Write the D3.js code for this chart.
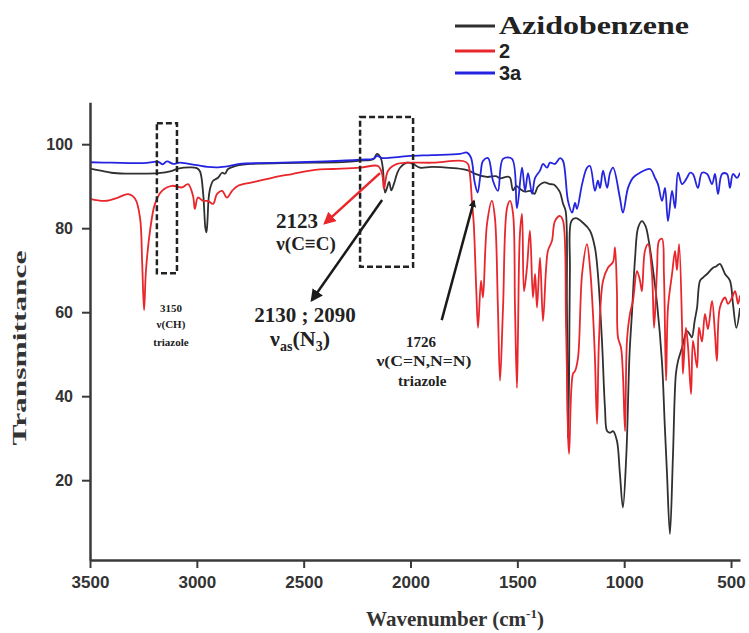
<!DOCTYPE html>
<html>
<head>
<meta charset="utf-8">
<script src="https://cdn.jsdelivr.net/npm/d3@7"></script>
<style>
  body { margin: 0; background: #fff; }
  svg { display: block; }
</style>
</head>
<body>
<svg id="chart" width="749" height="633"></svg>
<script>
// FT-IR spectra: wavenumber (cm-1) vs transmittance (%)

const seriesNames = ["Azidobenzene", "2", "3a"];
const seriesColors = ["#303030", "#e8262c", "#2424e0"];

const wnTicks = [3500, 3000, 2500, 2000, 1500, 1000, 500];
const tTicks = [20, 40, 60, 80, 100];

const azidobenzene = [
  [3500,94.2],[3450,93.7],[3400,93.2],[3330,93.0],[3250,93.0],[3180,93.1],[3120,93.6],[3088,94.2],
  [3030,94.5],[3000,94.3],[2985,93.5],[2970,88],[2960,80],[2955,79],[2950,82],[2945,87],[2938,89.4],
  [2924,91.3],[2901,92],[2882,93.2],[2868,93],[2854,94.1],[2821,94.8],[2750,95.3],[2600,95.5],
  [2447,95.6],[2300,95.8],[2236,96.1],[2175,96.4],[2157,97.7],[2140,96.8],[2130,94.5],[2119,88.5],
  [2110,89.6],[2100,91],[2090,89.0],[2078,90.5],[2063,93],[2049,94.4],[2016,95.6],[1988,95.3],
  [1956,94.4],[1900,94.6],[1800,94.3],[1750,94.0],[1722,93.6],[1700,93.0],[1642,92.2],[1600,92.4],
  [1581,91.9],[1545,92.3],[1534,92.0],[1520,89.0],[1505,90.1],[1488,89.4],[1464,88.7],[1441,88.9],
  [1420,88.2],[1405,89.8],[1385,90.7],[1371,90.9],[1347,90.5],[1330,90.4],[1315,89.7],[1300,88.5],
  [1286,85.8],[1274,84.1],[1268,62],[1263,30],[1258,44],[1254,70],[1247,81.7],[1226,82.4],
  [1193,81.3],[1160,79.4],[1137,75.4],[1123,69.1],[1104,53.2],[1090,37.3],[1080,31.7],[1066,31.3],
  [1052,31.7],[1034,29.4],[1020,21.5],[1006,13.5],[990,26],[975,50],[963,60.3],[949,73],[935,80.1],
  [917,81.7],[900,80.5],[885,77],[870,72],[846,62],[823,48],[810,33],[800,22],[786,7.2],[772,25.4],
  [758,45.3],[748,48.4],[729,51.6],[706,55.5],[690,54.5],[683,54],[670,58],[659,61.1],[645,67.5],
  [630,68.3],[612,69.1],[584,70.6],[570,70.9],[552,71.5],[540,70.5],[528,69.1],[505,67.5],[491,62],
  [475,56.3],[458,61]
];

const compound2 = [
  [3500,87],[3430,86.5],[3369,87.3],[3322,88.1],[3289,87],[3266,82.5],[3256,72],[3247,60.5],
  [3238,70],[3219,79.4],[3196,85.8],[3163,88.9],[3116,90.1],[3069,89.7],[3041,90.5],[3018,87.7],
  [3009,84.6],[2995,87.3],[2971,86.5],[2948,86.5],[2924,85.8],[2906,88.1],[2882,88.9],[2859,87.3],
  [2835,88.9],[2807,90.1],[2742,90.9],[2648,92],[2555,92.9],[2447,93.9],[2363,94.1],[2236,94.4],
  [2152,94.8],[2133,92.9],[2124,89.4],[2105,93.7],[2063,95.3],[2016,95.6],[1895,95.6],[1754,96],
  [1731,95.3],[1722,92.9],[1712,86],[1704,81],[1692,65],[1684,56.3],[1670,67.5],[1661,63.5],
  [1642,81],[1619,86.5],[1605,82.5],[1591,61.1],[1581,43.7],[1567,61.1],[1548,84.9],[1534,86.5],
  [1520,83.4],[1511,61.1],[1502,42],[1497,55],[1488,78.6],[1478,83.4],[1469,65],[1455,70.6],
  [1441,79.4],[1427,63.5],[1417,69.1],[1408,61.1],[1394,73],[1380,57.9],[1366,70],[1357,74.6],
  [1338,77],[1324,81.7],[1300,82.9],[1286,81.7],[1272,56.3],[1258,26.3],[1240,45.3],[1230,46],
  [1216,49.2],[1197,69.1],[1174,76.2],[1160,70.6],[1146,59.6],[1137,49.2],[1127,33.4],[1118,53.2],
  [1099,67.5],[1076,70.6],[1052,72],[1043,75.4],[1034,65],[1029,54],[1015,51.6],[1006,45.3],
  [996,31.7],[987,53.2],[973,59.6],[959,62.7],[940,69.8],[926,67.5],[917,65],[903,74.6],[888,76.2],
  [870,69.1],[860,56.3],[846,70.6],[837,77],[823,77.5],[814,69.1],[804,43.7],[795,61.1],[776,69.1],
  [762,74.6],[753,70],[743,76.2],[729,56.3],[725,45.3],[711,56.3],[701,51.6],[687,40.5],[678,53.2],
  [659,46.8],[650,56.3],[636,53],[622,59.6],[608,56],[589,62.7],[575,54.8],[566,48.4],[552,61.1],
  [528,63.5],[514,62],[495,63.5],[481,65],[467,62],[458,64]
];

const compound3a = [
  [3500,95.7],[3400,95.6],[3250,95.5],[3180,95.8],[3160,95.2],[3140,95.9],[3110,95.3],[3080,95.6],
  [3000,95.0],[2950,94.6],[2900,94.5],[2850,94.8],[2800,95.3],[2700,95.5],[2600,95.6],[2400,95.9],
  [2236,96.3],[2170,96.6],[2157,97.2],[2133,96.7],[2050,97.0],[2002,97.2],[1900,97.4],[1768,97.7],
  [1736,98],[1717,96.8],[1700,91],[1686,88.5],[1672,93],[1661,96],[1637,96.7],[1614,91.3],
  [1591,88.9],[1567,96.5],[1525,96.5],[1502,84.8],[1478,94.4],[1464,88.9],[1450,93.1],[1431,88.2],
  [1417,92],[1394,93.7],[1380,95.3],[1361,94.4],[1347,95.6],[1324,95.3],[1300,96.7],[1286,96],
  [1263,86.5],[1244,83.7],[1230,86],[1221,84.6],[1197,90.5],[1174,94.4],[1160,94.8],[1137,88.9],
  [1123,91.3],[1113,89.6],[1099,93.7],[1080,89.6],[1066,93.2],[1052,94.4],[1020,87.2],[1006,83.7],
  [982,89.6],[959,92],[926,93.2],[879,94.1],[856,92],[842,90.5],[823,86.5],[809,89.6],[795,81.7],
  [776,88.9],[762,84.8],[748,93.2],[729,90.5],[706,92],[692,93.2],[678,92.9],[655,89.6],[636,93.2],
  [612,92.9],[589,90.5],[575,92.9],[561,88.1],[542,92.9],[519,92.9],[505,89.6],[491,92.9],
  [472,92],[458,93.2]
];

// peak assignment marks, positioned in data units [wavenumber, transmittance]
const boxes = [
  { x0: 3187, x1: 3093, y0: 105, y1: 69.3 },
  { x0: 2236, x1: 1988, y0: 106.5, y1: 70.8 }
];
const arrows = [
  { from: [2143, 93.1], to: [2400, 81.2], color: "#e8262c" },
  { from: [2133, 86.7], to: [2461, 62.9], color: "#1a1a1a" },
  { from: [1854, 58.1], to: [1703, 86.5], color: "#1a1a1a" }
];

const svg = d3.select("#chart");
const W = 749, H = 633;
const serif = "'Liberation Serif', 'Times New Roman', serif";
const sans = "'Liberation Sans', Arial, sans-serif";

svg.append("rect").attr("width", W).attr("height", H).attr("fill", "#fff");

const x = d3.scaleLinear().domain([3500, 458]).range([90, 740]);
const y = d3.scaleLinear().domain([1, 110]).range([560, 102.2]);

svg.append("defs").append("clipPath").attr("id", "plot")
  .append("rect").attr("x", 90).attr("y", 102).attr("width", 650).attr("height", 458);

const line = d3.line()
  .x(d => x(d[0]))
  .y(d => y(d[1]))
  .curve(d3.curveCatmullRom.alpha(0.5));

const spectra = svg.append("g").attr("clip-path", "url(#plot)");
[azidobenzene, compound2, compound3a].forEach((set, i) => {
  spectra.append("path")
    .attr("d", line(set))
    .attr("fill", "none")
    .attr("stroke", seriesColors[i])
    .attr("stroke-width", 1.8)
    .attr("stroke-linejoin", "round");
});

// axes
const xAxis = svg.append("g")
  .attr("transform", "translate(0," + y(1) + ")")
  .call(d3.axisBottom(x).tickValues(wnTicks).tickFormat(d3.format("d"))
    .tickSize(8).tickSizeOuter(0).tickPadding(8));
const yAxis = svg.append("g")
  .attr("transform", "translate(" + x(3500) + ",0)")
  .call(d3.axisLeft(y).tickValues(tTicks).tickFormat(d3.format("d"))
    .tickSize(8).tickSizeOuter(0).tickPadding(9));

[xAxis, yAxis].forEach(g => {
  g.select(".domain").attr("stroke", "#3a3a3a").attr("stroke-width", 2.5);
  g.selectAll(".tick line").attr("stroke", "#3a3a3a").attr("stroke-width", 2);
  g.selectAll(".tick text")
    .attr("fill", "#333")
    .style("font-family", sans)
    .style("font-weight", "bold");
});
xAxis.selectAll(".tick text").style("font-size", "17px");
yAxis.selectAll(".tick text").style("font-size", "16px");

// axis titles
svg.append("text")
  .attr("transform", "translate(26,348) rotate(-90)")
  .attr("text-anchor", "middle")
  .attr("textLength", 195)
  .attr("lengthAdjust", "spacingAndGlyphs")
  .style("font-family", serif).style("font-weight", "bold").style("font-size", "18px")
  .attr("fill", "#333")
  .text("Transmittance");

const xTitle = svg.append("text")
  .attr("x", 455).attr("y", 626)
  .attr("text-anchor", "middle")
  .style("font-family", serif).style("font-weight", "bold").style("font-size", "21px")
  .attr("fill", "#333");
xTitle.append("tspan").text("Wavenumber (cm");
xTitle.append("tspan").attr("dy", -8).style("font-size", "13px").text("-1");
xTitle.append("tspan").attr("dy", 8).text(")");

// dashed boxes around the marked bands
svg.selectAll("rect.band").data(boxes).join("rect")
  .attr("class", "band")
  .attr("x", d => x(d.x0)).attr("y", d => y(d.y0))
  .attr("width", d => x(d.x1) - x(d.x0))
  .attr("height", d => y(d.y1) - y(d.y0))
  .attr("fill", "none")
  .attr("stroke", "#222")
  .attr("stroke-width", 2.5)
  .attr("stroke-dasharray", "6,3");

// arrows
const defs = svg.select("defs");
arrows.forEach((a, i) => {
  defs.append("marker")
    .attr("id", "head" + i)
    .attr("viewBox", "0 0 10 10")
    .attr("refX", 8).attr("refY", 5)
    .attr("markerWidth", i === 2 ? 3 : 5).attr("markerHeight", i === 2 ? 3 : 5)
    .attr("orient", "auto")
    .append("path").attr("d", "M0,0L10,5L0,10z").attr("fill", a.color);
  svg.append("line")
    .attr("x1", x(a.from[0])).attr("y1", y(a.from[1]))
    .attr("x2", x(a.to[0])).attr("y2", y(a.to[1]))
    .attr("stroke", a.color)
    .attr("stroke-width", 2.5)
    .attr("marker-end", "url(#head" + i + ")");
});

function label(wn, t, size, parts, len) {
  const el = svg.append("text")
    .attr("x", x(wn)).attr("y", y(t))
    .attr("text-anchor", "middle")
    .style("font-family", serif).style("font-weight", "bold")
    .style("font-size", size + "px")
    .attr("fill", "#222");
  if (len) el.attr("textLength", len).attr("lengthAdjust", "spacingAndGlyphs");
  parts.forEach(p => {
    if (typeof p === "string") el.append("tspan").text(p);
    else el.append("tspan").attr("dy", p.dy).style("font-size", p.size + "px").text(p.t);
  });
  return el;
}

label(2531, 80.0, 21, ["2123"]);
label(2489, 74.8, 19, ["\u03bd(C\u2261C)"]);
label(2494, 57.7, 21, ["2130 ; 2090"]);
label(2517, 52.0, 22, ["\u03bd", { t: "as", dy: 5, size: 14 }, { t: "(N", dy: -5, size: 22 },
  { t: "3", dy: 5, size: 14 }, { t: ")", dy: -5, size: 22 }]);
label(3121, 60.0, 11, ["3150"]);
label(3121, 56.2, 11, ["\u03bd(CH)"]);
label(3121, 52.0, 11, ["triazole"]);
label(1951, 51.7, 15, ["1726"]);
label(1937, 47.2, 14, ["\u03bd(C=N,N=N)"], 95);
label(1945, 42.4, 15, ["triazole"]);

// legend
const legend = svg.append("g").attr("transform", "translate(455,0)");
const legendY = [26, 51, 73];
seriesNames.forEach((name, i) => {
  legend.append("line")
    .attr("x1", 0).attr("x2", 40)
    .attr("y1", legendY[i]).attr("y2", legendY[i])
    .attr("stroke", seriesColors[i])
    .attr("stroke-width", 3);
  const t = legend.append("text")
    .attr("x", 44).attr("y", legendY[i] + 7)
    .attr("fill", "#222")
    .style("font-weight", "bold")
    .text(name);
  if (i === 0) {
    t.style("font-family", serif).style("font-size", "25px")
      .attr("textLength", 190).attr("lengthAdjust", "spacingAndGlyphs")
      .attr("y", legendY[i] + 8);
  } else {
    t.style("font-family", "'Liberation Sans Narrow', 'Arial Narrow', " + sans)
      .style("font-size", "20px");
  }
});
</script>
</body>
</html>
